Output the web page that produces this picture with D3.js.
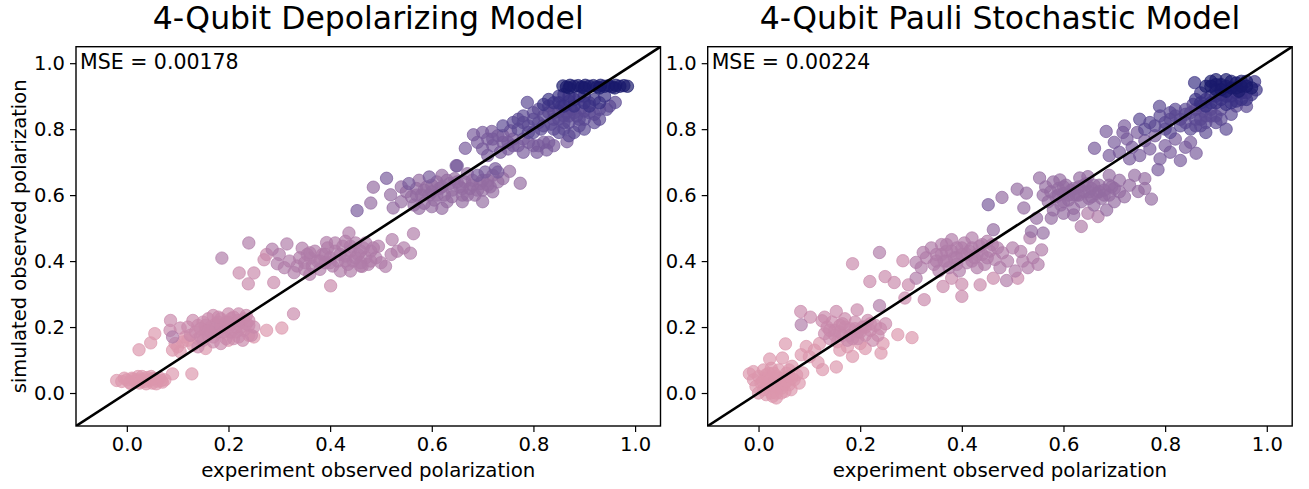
<!DOCTYPE html>
<html>
<head>
<meta charset="utf-8">
<script src="https://cdn.jsdelivr.net/npm/d3@7"></script>
<style>
  html, body { margin: 0; padding: 0; background: #fff; }
  svg { display: block; font-family: "DejaVu Sans", sans-serif; }
</style>
</head>
<body>
<svg id="chart" width="1309" height="489"></svg>
<script>
// ---- data: [experiment x, simulated y, colour level 0..7] ----
const titles = ["4-Qubit Depolarizing Model", "4-Qubit Pauli Stochastic Model"];
const mseLabels = ["MSE = 0.00178", "MSE = 0.00224"];
const tickValues = [0.0, 0.2, 0.4, 0.6, 0.8, 1.0];
const xLabel = "experiment observed polarization";
const yLabel = "simulated observed polarization";
const levelColors = ["#dc96ad", "#c989ab", "#b07ca8", "#936ca1", "#775a9b", "#5a4892", "#3a3183", "#19196c"];

const depolPoints = [
  // pink band
  [-0.02,0.038,0],[-0.01,0.035,0],[0.0,0.04,0],[0.005,0.032,0],[0.01,0.045,0],[0.015,0.036,0],[0.02,0.04,0],[0.025,0.03,0],
  [0.03,0.042,0],[0.035,0.035,0],[0.04,0.047,0],[0.045,0.038,0],[0.05,0.03,0],[0.055,0.042,0],[0.06,0.036,0],[0.065,0.045,0],
  [0.07,0.033,0],[0.075,0.04,0],[0.008,0.028,0],[0.022,0.05,0],[0.038,0.028,0],[0.048,0.05,0],[0.058,0.028,0],[0.012,0.042,0],
  [0.028,0.036,0],[0.042,0.04,0],[0.068,0.038,0],[-0.005,0.045,0],[0.03,0.05,0],[0.052,0.044,0],[0.09,0.058,0],[0.128,0.058,0],
  // ~0.2 cluster
  [0.024,0.131,0],[0.047,0.152,0],[0.055,0.18,0],[0.09,0.13,0],[0.1,0.14,0],[0.11,0.155,0],[0.095,0.15,0],[0.12,0.16,0],
  [0.13,0.145,0],[0.105,0.125,0],[0.14,0.165,0],[0.155,0.135,0],[0.115,0.17,0],[0.275,0.19,0],[0.305,0.197,0],[0.2,0.16,0],
  [0.24,0.175,0],[0.25,0.17,0],
  [0.086,0.22,1],[0.105,0.197,1],[0.085,0.19,1],[0.09,0.17,2],[0.12,0.2,1],[0.13,0.22,1],[0.135,0.185,1],[0.14,0.205,1],
  [0.145,0.17,1],[0.15,0.215,1],[0.155,0.19,1],[0.16,0.225,1],[0.16,0.175,1],[0.165,0.2,1],[0.17,0.155,1],[0.175,0.21,1],
  [0.18,0.185,1],[0.185,0.225,1],[0.19,0.2,1],[0.195,0.165,1],[0.2,0.215,1],[0.205,0.185,1],[0.21,0.23,1],[0.215,0.2,1],
  [0.22,0.17,1],[0.225,0.215,1],[0.23,0.19,1],[0.235,0.235,1],[0.24,0.205,1],[0.245,0.175,1],[0.15,0.16,1],[0.17,0.235,1],
  [0.2,0.24,1],[0.22,0.24,1],[0.185,0.15,1],[0.228,0.16,1],[0.328,0.24,1],[0.25,0.2,1],[0.125,0.175,1],[0.14,0.14,1],
  [0.155,0.205,1],[0.165,0.185,1],[0.175,0.195,1],[0.185,0.205,1],[0.195,0.215,1],[0.205,0.225,1],[0.215,0.185,1],[0.225,0.2,1],
  [0.235,0.21,1],[0.17,0.17,1],[0.18,0.215,1],[0.19,0.185,1],[0.21,0.165,1],[0.145,0.195,1],[0.23,0.225,1],[0.24,0.22,1],
  [0.16,0.19,1],[0.2,0.2,1],[0.22,0.22,1],[0.18,0.23,1],
  // ~0.4 cluster
  [0.187,0.409,2],[0.221,0.364,1],[0.25,0.364,1],[0.239,0.331,1],[0.24,0.455,2],[0.27,0.404,1],[0.286,0.436,2],[0.315,0.452,2],
  [0.289,0.335,1],[0.296,0.392,2],[0.329,0.365,2],[0.345,0.439,2],[0.361,0.409,2],[0.393,0.456,2],[0.401,0.325,1],[0.31,0.38,2],
  [0.32,0.4,2],[0.335,0.385,2],[0.34,0.41,2],[0.35,0.395,2],[0.355,0.42,2],[0.365,0.385,2],[0.37,0.43,2],[0.375,0.4,2],
  [0.38,0.375,2],[0.385,0.42,2],[0.39,0.395,2],[0.395,0.44,2],[0.4,0.41,2],[0.405,0.385,2],[0.41,0.43,2],[0.415,0.4,2],
  [0.42,0.37,2],[0.425,0.445,2],[0.43,0.415,2],[0.435,0.39,2],[0.437,0.485,2],[0.44,0.43,2],[0.445,0.4,2],[0.45,0.455,2],
  [0.455,0.42,2],[0.46,0.385,2],[0.465,0.44,2],[0.47,0.41,2],[0.475,0.39,2],[0.48,0.43,2],[0.49,0.41,2],[0.495,0.445,2],
  [0.5,0.395,2],[0.509,0.384,2],[0.522,0.465,2],[0.532,0.43,2],[0.545,0.44,2],[0.558,0.424,2],[0.564,0.483,2],[0.52,0.42,2],
  [0.463,0.384,2],[0.3,0.42,2],[0.275,0.42,1],[0.36,0.36,2],[0.43,0.46,2],[0.41,0.455,2],
  [0.42,0.42,2],[0.43,0.4,2],[0.44,0.445,2],[0.45,0.41,2],[0.46,0.43,2],[0.47,0.455,2],[0.48,0.4,2],[0.485,0.44,2],
  [0.4,0.395,2],[0.39,0.42,2],[0.38,0.4,2],[0.36,0.425,2],[0.35,0.375,2],[0.46,0.395,2],[0.44,0.37,2],
  // ~0.6 cluster
  [0.453,0.553,4],[0.48,0.576,3],[0.485,0.624,3],[0.511,0.651,4],[0.524,0.561,3],[0.519,0.601,3],[0.54,0.58,3],[0.55,0.61,3],
  [0.555,0.635,4],[0.56,0.595,3],[0.565,0.57,3],[0.57,0.62,3],[0.575,0.645,3],[0.58,0.6,3],[0.585,0.575,3],[0.59,0.625,3],
  [0.595,0.655,4],[0.6,0.61,3],[0.605,0.585,3],[0.61,0.64,3],[0.615,0.62,3],[0.62,0.66,3],[0.625,0.6,3],[0.63,0.58,3],
  [0.635,0.635,3],[0.64,0.615,3],[0.645,0.65,3],[0.65,0.689,4],[0.655,0.625,3],[0.66,0.6,3],[0.665,0.64,3],[0.67,0.665,3],
  [0.675,0.62,3],[0.68,0.645,3],[0.685,0.6,3],[0.69,0.66,4],[0.695,0.635,3],[0.7,0.615,3],[0.705,0.67,4],[0.71,0.645,3],
  [0.715,0.625,3],[0.72,0.66,3],[0.725,0.68,4],[0.73,0.64,3],[0.753,0.672,3],[0.774,0.636,3],[0.6,0.565,3],[0.575,0.56,3],
  [0.66,0.58,3],[0.62,0.56,3],[0.54,0.625,3],[0.648,0.689,4],[0.7,0.58,3],
  [0.6,0.63,3],[0.61,0.6,3],[0.62,0.625,3],[0.63,0.645,3],[0.64,0.595,3],[0.65,0.64,3],[0.66,0.62,3],[0.67,0.6,3],
  [0.68,0.63,3],[0.69,0.615,3],[0.7,0.645,3],[0.71,0.63,3],[0.72,0.61,3],[0.73,0.67,4],[0.585,0.615,3],[0.595,0.6,3],
  [0.57,0.6,3],[0.74,0.65,3],
  // ~0.8 cluster
  [0.666,0.742,4],[0.682,0.783,4],[0.718,0.793,4],[0.69,0.76,4],[0.7,0.74,4],[0.71,0.77,4],[0.72,0.75,4],[0.73,0.78,4],
  [0.74,0.76,4],[0.75,0.74,4],[0.735,0.73,4],[0.76,0.77,4],[0.77,0.75,4],[0.78,0.73,4],[0.807,0.73,4],[0.826,0.737,4],
  [0.866,0.762,4],[0.79,0.76,4],[0.8,0.75,4],[0.755,0.795,4],[0.71,0.72,4],[0.84,0.75,4],[0.82,0.76,4],
  [0.7,0.79,4],[0.72,0.77,4],[0.75,0.76,4],[0.76,0.75,4],[0.78,0.77,4],[0.74,0.78,4],[0.81,0.75,4],[0.83,0.76,4],
  [0.76,0.82,5],[0.77,0.8,5],[0.78,0.84,5],[0.788,0.881,5],[0.79,0.81,5],[0.8,0.83,5],[0.81,0.86,5],[0.815,0.8,5],
  [0.82,0.84,5],[0.83,0.87,5],[0.835,0.815,5],[0.84,0.85,5],[0.85,0.83,5],[0.855,0.87,5],[0.86,0.8,5],[0.865,0.85,5],
  [0.87,0.82,5],[0.875,0.86,5],[0.88,0.79,5],[0.885,0.84,5],[0.89,0.81,5],[0.895,0.865,5],[0.9,0.83,5],[0.91,0.85,5],
  [0.92,0.82,5],[0.93,0.86,5],[0.944,0.86,5],[0.961,0.881,5],[0.85,0.79,5],[0.8,0.79,5],[0.87,0.78,5],[0.91,0.88,5],
  [0.74,0.81,5],
  [0.8,0.85,5],[0.81,0.82,5],[0.82,0.81,5],[0.83,0.85,5],[0.84,0.83,5],[0.85,0.855,5],[0.86,0.84,5],[0.87,0.84,5],
  [0.88,0.85,5],[0.89,0.83,5],[0.9,0.855,5],[0.86,0.82,5],[0.84,0.8,5],[0.9,0.8,5],[0.92,0.845,5],[0.93,0.83,5],
  [0.78,0.82,5],[0.79,0.79,5],[0.77,0.83,5],[0.95,0.87,5],
  [0.83,0.89,6],[0.85,0.9,6],[0.87,0.885,6],[0.89,0.9,6],[0.9,0.88,6],[0.86,0.905,6],[0.88,0.87,6],[0.84,0.88,6],
  [0.92,0.89,6],[0.94,0.9,6],[0.86,0.87,6],[0.88,0.89,6],[0.9,0.9,6],[0.91,0.87,6],[0.87,0.9,6],[0.85,0.88,6],
  [0.82,0.875,6],[0.93,0.88,6],
  // top row
  [0.858,0.931,7],[0.865,0.928,7],[0.872,0.933,7],[0.88,0.93,7],[0.888,0.932,7],[0.895,0.928,7],[0.902,0.933,7],[0.91,0.93,7],
  [0.918,0.932,7],[0.925,0.928,7],[0.932,0.933,7],[0.94,0.93,7],[0.948,0.932,7],[0.955,0.928,7],[0.962,0.933,7],[0.97,0.93,7],
  [0.978,0.932,7],[0.985,0.93,7],[0.87,0.925,7],[0.9,0.925,7],[0.93,0.925,7],[0.96,0.925,7]
];

const pauliPoints = [
  // pink
  [-0.018,0.058,0],[-0.01,0.04,0],[-0.005,0.02,0],[0.0,0.05,0],[0.005,0.03,0],[0.01,0.01,0],[0.012,0.045,0],[0.018,0.025,0],
  [0.02,0.06,0],[0.025,0.0,0],[0.028,-0.01,0],[0.03,0.035,0],[0.035,0.05,0],[0.038,0.015,0],[0.04,0.07,0],[0.045,0.03,0],
  [0.05,0.045,0],[0.052,0.005,0],[0.055,0.06,0],[0.06,0.025,0],[0.064,0.01,0],[0.066,0.081,0],[0.07,0.04,0],[0.075,0.055,0],
  [0.08,0.03,0],[0.087,0.061,0],[0.015,-0.005,0],[0.035,-0.015,0],[0.045,0.0,0],[0.0,0.0,0],[0.022,0.103,0],[0.047,0.106,0],
  [0.053,0.149,0],[0.06,0.07,0],[0.025,0.075,0],[-0.01,0.065,0],[0.01,0.07,0],
  [0.02,0.04,0],[0.03,0.02,0],[0.04,0.045,0],[0.05,0.025,0],[0.06,0.05,0],[0.015,0.055,0],[0.03,0.06,0],[0.045,0.015,0],
  [0.055,0.035,0],[0.065,0.045,0],[0.008,0.035,0],[0.035,0.0,0],
  // ~0.2
  [0.083,0.247,1],[0.102,0.23,1],[0.084,0.207,2],[0.125,0.219,1],[0.153,0.247,1],[0.194,0.252,1],[0.238,0.265,2],[0.094,0.141,0],
  [0.084,0.116,0],[0.117,0.093,0],[0.126,0.071,0],[0.153,0.079,0],[0.185,0.111,0],[0.241,0.121,0],[0.274,0.177,0],[0.302,0.168,0],
  [0.12,0.15,0],[0.13,0.18,1],[0.135,0.2,1],[0.14,0.165,1],[0.145,0.215,1],[0.15,0.19,1],[0.155,0.155,0],[0.16,0.205,1],
  [0.165,0.175,1],[0.17,0.225,1],[0.175,0.14,0],[0.18,0.195,1],[0.185,0.165,1],[0.19,0.215,1],[0.195,0.185,1],[0.2,0.15,0],
  [0.205,0.2,1],[0.21,0.175,1],[0.215,0.22,1],[0.22,0.19,1],[0.225,0.16,1],[0.23,0.205,1],[0.235,0.175,1],[0.24,0.195,1],
  [0.245,0.15,0],[0.11,0.13,0],[0.1,0.11,0],[0.16,0.13,0],[0.21,0.135,0],[0.25,0.21,1],[0.13,0.23,1],
  [0.15,0.175,1],[0.16,0.185,1],[0.17,0.2,1],[0.18,0.175,1],[0.19,0.195,1],[0.2,0.185,1],[0.21,0.2,1],[0.22,0.21,1],
  [0.165,0.21,1],[0.175,0.16,1],[0.195,0.165,1],[0.14,0.19,1],
  // ~0.4
  [0.185,0.392,1],[0.238,0.426,2],[0.219,0.338,1],[0.249,0.353,1],[0.267,0.335,1],[0.284,0.401,1],[0.295,0.328,1],[0.288,0.288,1],
  [0.326,0.283,1],[0.324,0.426,2],[0.363,0.323,1],[0.4,0.293,1],[0.38,0.348,1],[0.4,0.33,1],[0.436,0.328,1],[0.462,0.348,1],
  [0.488,0.341,2],[0.51,0.348,1],[0.516,0.429,2],[0.534,0.47,2],[0.557,0.434,2],[0.31,0.348,2],[0.31,0.396,2],
  [0.32,0.38,2],[0.33,0.41,2],[0.34,0.44,2],[0.345,0.39,2],[0.35,0.42,2],[0.355,0.37,2],[0.36,0.45,2],[0.365,0.4,2],
  [0.37,0.43,2],[0.375,0.38,2],[0.38,0.465,2],[0.385,0.41,2],[0.39,0.44,2],[0.395,0.37,2],[0.4,0.42,2],[0.405,0.455,2],
  [0.41,0.395,2],[0.415,0.43,2],[0.42,0.47,2],[0.425,0.41,2],[0.43,0.38,2],[0.435,0.445,2],[0.44,0.42,2],[0.445,0.39,2],
  [0.45,0.46,2],[0.455,0.43,2],[0.462,0.495,3],[0.465,0.405,2],[0.47,0.44,2],[0.475,0.38,2],[0.48,0.425,2],[0.49,0.4,2],
  [0.5,0.44,2],[0.505,0.37,2],[0.52,0.4,2],[0.53,0.38,2],[0.54,0.41,2],[0.55,0.39,2],
  [0.36,0.42,2],[0.37,0.4,2],[0.38,0.43,2],[0.39,0.41,2],[0.4,0.44,2],[0.41,0.42,2],[0.42,0.44,2],[0.43,0.42,2],
  [0.44,0.45,2],[0.45,0.41,2],[0.35,0.4,2],[0.39,0.39,2],[0.42,0.4,2],[0.46,0.45,2],[0.37,0.45,2],
  // ~0.6
  [0.452,0.571,4],[0.479,0.593,3],[0.509,0.618,3],[0.527,0.606,3],[0.522,0.561,3],[0.553,0.652,3],[0.547,0.53,3],[0.576,0.53,3],
  [0.537,0.49,3],[0.56,0.485,3],[0.635,0.505,2],[0.648,0.545,2],[0.668,0.535,2],[0.632,0.652,3],[0.648,0.656,3],[0.593,0.646,3],
  [0.56,0.6,3],[0.565,0.625,3],[0.57,0.58,3],[0.575,0.61,3],[0.58,0.64,3],[0.585,0.595,3],[0.59,0.62,3],[0.595,0.57,3],
  [0.6,0.605,3],[0.605,0.63,3],[0.61,0.585,3],[0.615,0.615,3],[0.62,0.56,3],[0.625,0.6,3],[0.63,0.625,3],[0.635,0.58,3],
  [0.64,0.61,3],[0.645,0.635,3],[0.65,0.59,3],[0.655,0.62,3],[0.66,0.57,3],[0.665,0.605,3],[0.67,0.63,3],[0.675,0.59,3],
  [0.68,0.615,3],[0.685,0.555,3],[0.69,0.6,3],[0.695,0.625,3],[0.7,0.58,3],[0.71,0.61,3],[0.72,0.595,3],[0.73,0.63,3],
  [0.747,0.611,3],[0.773,0.588,3],[0.786,0.677,4],[0.6,0.545,3],[0.62,0.54,3],[0.58,0.555,3],[0.69,0.66,3],[0.71,0.645,3],
  [0.74,0.66,3],[0.76,0.65,3],[0.76,0.62,3],
  [0.6,0.625,3],[0.61,0.6,3],[0.62,0.62,3],[0.63,0.6,3],[0.64,0.63,3],[0.65,0.61,3],[0.66,0.63,3],[0.67,0.61,3],
  [0.68,0.6,3],[0.69,0.63,3],[0.59,0.6,3],[0.7,0.62,3],[0.62,0.6,3],[0.655,0.595,3],[0.6,0.58,3],
  // ~0.8
  [0.661,0.742,4],[0.684,0.793,4],[0.717,0.79,4],[0.7,0.76,4],[0.71,0.73,4],[0.725,0.77,4],[0.735,0.745,4],[0.745,0.79,4],
  [0.75,0.72,4],[0.76,0.765,4],[0.77,0.74,4],[0.78,0.78,4],[0.79,0.71,4],[0.8,0.75,4],[0.81,0.73,4],[0.82,0.77,4],
  [0.83,0.705,4],[0.84,0.745,4],[0.861,0.727,4],[0.85,0.76,4],[0.73,0.71,4],[0.69,0.72,4],[0.72,0.81,4],
  [0.789,0.869,5],[0.77,0.82,5],[0.78,0.81,5],[0.79,0.84,5],[0.8,0.8,5],[0.81,0.83,5],[0.82,0.86,5],[0.83,0.81,5],
  [0.84,0.845,5],[0.85,0.8,5],[0.855,0.875,5],[0.86,0.83,5],[0.87,0.81,5],[0.875,0.855,5],[0.88,0.79,5],[0.89,0.84,5],
  [0.9,0.82,5],[0.91,0.86,5],[0.92,0.8,5],[0.93,0.845,5],[0.96,0.869,5],[0.94,0.87,5],[0.81,0.79,5],[0.76,0.8,5],
  [0.75,0.83,5],
  [0.82,0.84,5],[0.83,0.83,5],[0.84,0.82,5],[0.85,0.85,5],[0.86,0.86,5],[0.87,0.83,5],[0.88,0.84,5],[0.89,0.86,5],
  [0.9,0.84,5],[0.8,0.82,5],[0.81,0.85,5],[0.86,0.81,5],[0.84,0.86,5],[0.88,0.82,5],[0.91,0.83,5],[0.87,0.87,5],
  // top
  [0.86,0.89,6],[0.87,0.91,6],[0.88,0.87,6],[0.89,0.9,6],[0.9,0.88,6],[0.91,0.905,6],[0.92,0.875,6],[0.93,0.9,6],
  [0.94,0.885,6],[0.95,0.91,6],[0.96,0.89,6],[0.97,0.905,6],[0.979,0.919,6],[0.858,0.941,6],[0.976,0.944,6],
  [0.88,0.89,6],[0.9,0.9,6],[0.92,0.9,6],[0.89,0.88,6],[0.91,0.89,6],[0.93,0.88,6],[0.95,0.89,6],[0.87,0.88,6],
  [0.94,0.91,6],[0.96,0.91,6],
  [0.88,0.93,7],[0.89,0.945,7],[0.9,0.92,7],[0.91,0.935,7],[0.92,0.95,7],[0.93,0.925,7],[0.94,0.94,7],[0.95,0.93,7],
  [0.96,0.945,7],[0.97,0.925,7],[0.9,0.95,7],[0.92,0.915,7],[0.945,0.915,7],
  [0.9,0.935,7],[0.92,0.93,7],[0.93,0.945,7],[0.95,0.945,7],[0.91,0.92,7],[0.94,0.925,7],[0.96,0.93,7],[0.89,0.93,7]
];

const panels = [
  { points: depolPoints, title: titles[0], mse: mseLabels[0], left: 76, showY: true },
  { points: pauliPoints, title: titles[1], mse: mseLabels[1], left: 707.7, showY: false }
];

// ---- layout ----
const svg = d3.select("#chart");
const plotTop = 46.7, plotBottom = 426, plotWidth = 584.5;
const domain = [-0.1, 1.05];
const color = d3.scaleOrdinal().domain(d3.range(levelColors.length)).range(levelColors);

panels.forEach(p => {
  const x = d3.scaleLinear().domain(domain).range([p.left, p.left + plotWidth]);
  const y = d3.scaleLinear().domain(domain).range([plotBottom, plotTop]);
  const g = svg.append("g");

  const clipId = "clip" + Math.round(p.left);
  svg.append("clipPath").attr("id", clipId)
    .append("rect").attr("x", p.left).attr("y", plotTop).attr("width", plotWidth).attr("height", plotBottom - plotTop);

  const plot = g.append("g").attr("clip-path", `url(#${clipId})`);
  const sorted = p.points.slice().sort((a, b) => a[2] - b[2]);
  plot.selectAll("circle").data(sorted).join("circle")
    .attr("cx", d => x(d[0])).attr("cy", d => y(d[1])).attr("r", 6.2)
    .attr("fill", d => color(d[2])).attr("fill-opacity", 0.68)
    .attr("stroke", d => color(d[2])).attr("stroke-opacity", 0.68).attr("stroke-width", 1);

  plot.append("line")
    .attr("x1", x(domain[0])).attr("y1", y(domain[0]))
    .attr("x2", x(domain[1])).attr("y2", y(domain[1]))
    .attr("stroke", "#000").attr("stroke-width", 2.6);

  const xAxis = g.append("g").attr("transform", `translate(0,${plotBottom})`)
    .call(d3.axisBottom(x).tickValues(tickValues).tickFormat(d3.format(".1f")).tickSize(6).tickPadding(5));
  const yAxis = g.append("g").attr("transform", `translate(${p.left},0)`)
    .call(d3.axisLeft(y).tickValues(tickValues).tickFormat(d3.format(".1f")).tickSize(6).tickPadding(5));
  [xAxis, yAxis].forEach(a => {
    a.select(".domain").remove();
    a.selectAll(".tick line").attr("stroke", "#000").attr("stroke-width", 1.2);
    a.selectAll(".tick text").attr("fill", "#000").style("font-size", "19.5px").style("font-family", "DejaVu Sans");
  });

  g.append("rect").attr("x", p.left).attr("y", plotTop).attr("width", plotWidth).attr("height", plotBottom - plotTop)
    .attr("fill", "none").attr("stroke", "#000").attr("stroke-width", 1.4);

  g.append("text").attr("x", p.left + plotWidth / 2).attr("y", 29).attr("text-anchor", "middle")
    .style("font-size", "31.5px").attr("fill", "#000").text(p.title);

  g.append("text").attr("x", p.left + 4).attr("y", 68.5)
    .style("font-size", "20.5px").attr("fill", "#000").text(p.mse);

  g.append("text").attr("x", p.left + plotWidth / 2).attr("y", 477).attr("text-anchor", "middle")
    .style("font-size", "19.8px").attr("fill", "#000").text(xLabel);

  if (p.showY) {
    g.append("text").attr("transform", `translate(26,${(plotTop + plotBottom) / 2}) rotate(-90)`)
      .attr("text-anchor", "middle").style("font-size", "19.5px").attr("fill", "#000").text(yLabel);
  }
});
</script>
</body>
</html>
